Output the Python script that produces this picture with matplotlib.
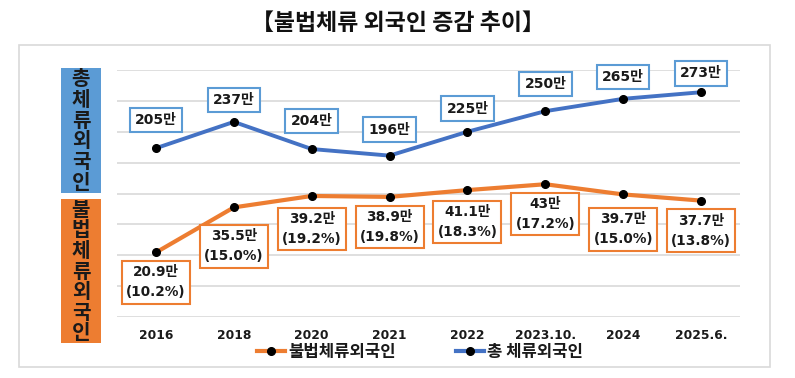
import matplotlib
matplotlib.use("Agg")
import matplotlib.pyplot as plt
from matplotlib.patches import Rectangle
from matplotlib.lines import Line2D

plt.rcParams['font.family'] = ['DejaVu Sans', 'Noto Sans CJK KR']

# ---- data ----
categories = ["2016", "2018", "2020", "2021", "2022", "2023.10.", "2024", "2025.6."]
total_residents = [205, 237, 204, 196, 225, 250, 265, 273]          # 만 명
illegal_residents = [20.9, 35.5, 39.2, 38.9, 41.1, 43, 39.7, 37.7]  # 만 명
illegal_ratio = ["10.2%", "15.0%", "19.2%", "19.8%", "18.3%", "17.2%", "15.0%", "13.8%"]
title = "【불법체류 외국인 증감 추이】"
total_name = "총 체류외국인"
illegal_name = "불법체류외국인"
side_total = "총체류외국인"
side_illegal = "불법체류외국인"

# ---- layout constants (pixels) ----
W, H = 795, 378
blue_label_dy = [-28, -22, -28, -26, -23, -27, -22, -19]
orange_label_dy = [30, 39, 33, 30, 32, 30, 35, 30]

BLUE_LINE = "#4472C4"
BLUE_BOX = "#5B9BD5"
ORANGE = "#ED7D31"
GRID = "#D9D9D9"
TXT = "#1A1A1A"

fig = plt.figure(figsize=(W / 100, H / 100), dpi=100)

def fx(px):
    return px / W

def fy(py):
    return 1 - py / H

# outer frame
fig.patches.append(Rectangle((fx(19), fy(367)), fx(770) - fx(19), fy(45) - fy(367),
                             transform=fig.transFigure, fill=False, ec=GRID, lw=1.2))

# title
fig.text(0.5, fy(23), title, ha='center', va='center', fontsize=16.5,
         family=['Noto Sans CJK KR', 'DejaVu Sans'], weight='bold', color='#111111')

ax = fig.add_axes([fx(117), fy(317), fx(740) - fx(117), fy(70) - fy(317)])
ax2 = ax.twinx()
x = list(range(len(categories)))

for a in (ax, ax2):
    for s in a.spines.values():
        s.set_visible(False)
ax.set_xlim(-0.5, len(categories) - 0.5)
ax.set_ylim(0, 80)
ax2.set_ylim(0, 300)
ax.set_yticks(range(0, 81, 10))
ax.yaxis.grid(True, color=GRID, lw=1.2)
ax.set_axisbelow(True)
ax.tick_params(axis='y', length=0, labelleft=False)
ax2.tick_params(axis='y', length=0, labelright=False)
ax2.set_yticks([])
ax.set_xticks(x)
ax.set_xticklabels(categories, fontsize=8.8, fontweight='bold', color=TXT)
ax.tick_params(axis='x', length=0, pad=8.5)

# orange (illegal) line
ax.plot(x, illegal_residents, color=ORANGE, lw=3, marker='o', ms=5.5,
        mfc='black', mec='black', zorder=3)
for i, (v, r) in enumerate(zip(illegal_residents, illegal_ratio)):
    ax.annotate(f"{v:g}만\n({r})", xy=(i, v), xytext=(0, -orange_label_dy[i] * 0.72),
                textcoords='offset points', ha='center', va='center',
                fontsize=9.8, fontweight='bold', color=TXT, linespacing=1.55,
                bbox=dict(boxstyle='square,pad=0.3', fc='white', ec=ORANGE, lw=1.5),
                zorder=5)

# blue (total) line
ax2.plot(x, total_residents, color=BLUE_LINE, lw=2.8, marker='o', ms=5.5,
         mfc='black', mec='black', zorder=3)
for i, v in enumerate(total_residents):
    ax2.annotate(f"{v}만", xy=(i, v), xytext=(0, -blue_label_dy[i] * 0.72),
                 textcoords='offset points', ha='center', va='center',
                 fontsize=10, fontweight='bold', color=TXT,
                 bbox=dict(boxstyle='square,pad=0.38', fc='white', ec=BLUE_BOX, lw=1.5),
                 zorder=5)

# left side boxes
def side_box(y0, y1, color, label):
    fig.patches.append(Rectangle((fx(61), fy(y1)), fx(101) - fx(61), fy(y0) - fy(y1),
                                 transform=fig.transFigure, fc=color, ec='none'))
    step = (y1 - y0) / len(label)
    for k, ch in enumerate(label):
        fig.text(fx(81), fy(y0 + step * (k + 0.5)), ch, ha='center', va='center',
                 fontsize=14.5, fontweight='bold', color='#1A1A1A',
                 family=['Noto Sans CJK KR', 'DejaVu Sans'])

side_box(68, 193, BLUE_BOX, side_total)
side_box(199, 343, ORANGE, side_illegal)

# legend
handles = [
    Line2D([], [], color=ORANGE, lw=3, marker='o', ms=5.5, mfc='black', mec='black'),
    Line2D([], [], color=BLUE_LINE, lw=3, marker='o', ms=5.5, mfc='black', mec='black'),
]
leg = fig.legend(handles, [illegal_name, total_name], loc='center',
                 bbox_to_anchor=(fx(420), fy(352)), ncol=2, frameon=False,
                 handlelength=1.7, handletextpad=0.2, columnspacing=3.6,
                 prop={'family': ['Noto Sans CJK KR', 'DejaVu Sans'],
                       'weight': 'bold', 'size': 12})
for t in leg.get_texts():
    t.set_color(TXT)

fig.savefig("out.png", dpi=100)
